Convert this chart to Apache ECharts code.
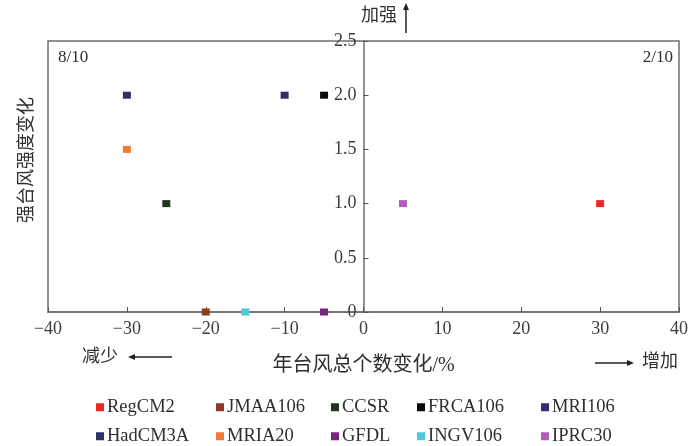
<!DOCTYPE html>
<html lang="zh">
<head>
    <meta charset="UTF-8">
    <title>强台风强度变化</title>
    <style>
        html, body { margin: 0; padding: 0; background: #fff; }
        #main { width: 696px; height: 446px; }
    </style>
    <script src="https://cdn.jsdelivr.net/npm/echarts@6/dist/echarts.min.js"></script>
</head>
<body>
<div id="main"></div>
<script>
    // 模式名称及其对应的变化值
    var models = ['RegCM2', 'JMAA106', 'CCSR', 'FRCA106', 'MRI106',
                  'HadCM3A', 'MRIA20', 'GFDL', 'INGV106', 'IPRC30'];
    var countChange = [30, -20, -25, -5, -10, -30, -30, -5, -15, 5];      // 年台风总个数变化/%
    var intensityChange = [1.0, 0, 1.0, 2.0, 2.0, 2.0, 1.5, 0, 0, 1.0];   // 强台风强度变化
    var colors = ['#ee2a22', '#8c3b24', '#22361c', '#0a0a0a', '#2f2e66',
                  '#2f2e66', '#f47a3a', '#7a2381', '#52c6de', '#b45cb8'];

    var serif = "'Liberation Serif', 'Times New Roman', 'Noto Sans CJK SC', serif";
    var textColor = '#2e2e2e';
    var gridLeft = 48;

    var chart = echarts.init(document.getElementById('main'));

    var series = models.map(function (name, i) {
        return {
            name: name,
            type: 'scatter',
            symbol: 'rect',
            symbolSize: [8, 7],
            itemStyle: { color: colors[i], opacity: 1 },
            data: [[countChange[i], intensityChange[i]]]
        };
    });

    // 图例：两行五列
    var legendCols = [91, 211, 326, 412, 536];
    var legendRows = [393, 422];
    var legends = models.map(function (name, i) {
        return {
            data: [{ name: name, icon: 'rect' }],
            left: legendCols[i % 5],
            top: legendRows[Math.floor(i / 5)],
            itemWidth: 8,
            itemHeight: 8,
            itemGap: 0,
            textStyle: { fontFamily: serif, fontSize: 18.5, color: textColor, padding: [0, 0, 0, -2] },
            selectedMode: false
        };
    });

    function arrowHead(x, y, dir) {
        // dir: 'left' | 'right' | 'up'
        var pts;
        if (dir === 'left') pts = [[x, y], [x + 7, y - 3], [x + 7, y + 3]];
        else if (dir === 'right') pts = [[x, y], [x - 7, y - 3], [x - 7, y + 3]];
        else pts = [[x, y], [x - 3, y + 7], [x + 3, y + 7]];
        return { type: 'polygon', shape: { points: pts }, style: { fill: '#222' } };
    }

    var option = {
        animation: false,
        grid: {
            left: gridLeft, right: 17, top: 41, bottom: 134,
            show: true, borderColor: '#6e6e6e', borderWidth: 1.5
        },
        xAxis: {
            type: 'value',
            min: -40, max: 40, interval: 10,
            name: '年台风总个数变化/%',
            nameLocation: 'middle',
            nameGap: 44,
            nameTextStyle: { fontFamily: serif, fontSize: 20, color: textColor },
            axisLine: { onZero: false, lineStyle: { color: '#6e6e6e', width: 1.5 } },
            axisTick: { inside: true, length: 5, lineStyle: { color: '#555' } },
            axisLabel: {
                margin: 8,
                fontFamily: serif, fontSize: 18, color: '#3c3c3c',
                formatter: function (v) { return String(v).replace('-', '\u2212'); }
            },
            splitLine: { show: false }
        },
        yAxis: {
            type: 'value',
            min: 0, max: 2.5, interval: 0.5,
            axisLine: { onZero: false, lineStyle: { color: '#6e6e6e', width: 1.5 } },
            axisTick: { inside: true, length: 5, lineStyle: { color: '#555' } },
            axisLabel: {
                margin: 7,
                fontFamily: serif, fontSize: 18, color: '#3c3c3c',
                formatter: function (v) { return v === 0 ? '0' : v.toFixed(1); }
            },
            splitLine: { show: false }
        },
        legend: legends,
        series: series,
        graphic: [
            { type: 'text', left: 58, top: 49,
              style: { text: '8/10', font: '17px ' + serif, fill: textColor } },
            { type: 'text', right: 23, top: 49,
              style: { text: '2/10', font: '17px ' + serif, fill: textColor } },
            // 纵轴名称
            { type: 'text', x: 27, y: 160, rotation: Math.PI / 2,
              style: { text: '强台风强度变化', font: '18px ' + serif, fill: textColor,
                       align: 'center', verticalAlign: 'middle' } },
            // 加强 ↑
            { type: 'text', x: 361, y: 16,
              style: { text: '加强', font: '18px ' + serif, fill: textColor, verticalAlign: 'middle' } },
            { type: 'line', shape: { x1: 406, y1: 33, x2: 406, y2: 8 }, style: { stroke: '#222', lineWidth: 1.5 } },
            arrowHead(406, 3, 'up'),
            // 减少 ←
            { type: 'text', x: 82, y: 357,
              style: { text: '减少', font: '18px ' + serif, fill: textColor, verticalAlign: 'middle' } },
            { type: 'line', shape: { x1: 134, y1: 357, x2: 172, y2: 357 }, style: { stroke: '#222', lineWidth: 1.5 } },
            arrowHead(128, 357, 'left'),
            // → 增加
            { type: 'line', shape: { x1: 595, y1: 363, x2: 628, y2: 363 }, style: { stroke: '#222', lineWidth: 1.5 } },
            arrowHead(634, 363, 'right'),
            { type: 'text', x: 642, y: 362,
              style: { text: '增加', font: '18px ' + serif, fill: textColor, verticalAlign: 'middle' } }
        ]
    };

    chart.setOption(option);

    // 纵轴放在横轴 0 处
    var zeroX = chart.convertToPixel({ xAxisIndex: 0 }, 0);
    chart.setOption({ yAxis: { offset: -(zeroX - gridLeft) } });
</script>
</body>
</html>
